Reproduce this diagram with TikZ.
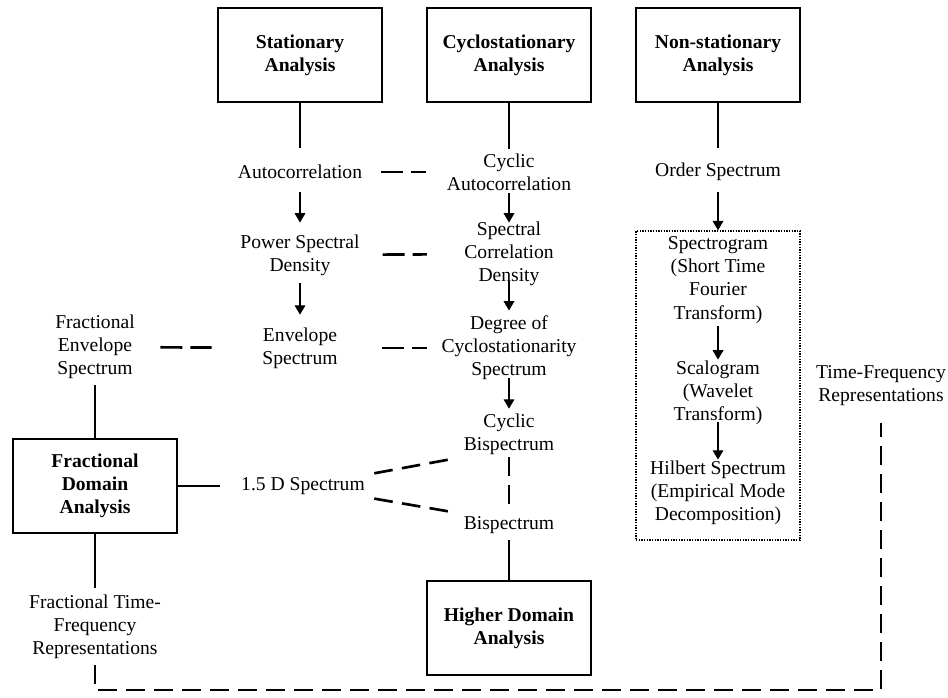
\documentclass[tikz,border=0pt]{standalone}
\usepackage{fontspec}
\setmainfont{Liberation Serif}
\usetikzlibrary{arrows.meta}
\tikzset{
  anabox/.style={draw, line width=1.4pt, minimum width=123pt, minimum height=71pt, align=center, inner sep=2pt, font=\fontsize{14.7}{17.3}\selectfont\bfseries},
  labltxt/.style={align=center, inner sep=2pt, font=\fontsize{14.7}{17.3}\selectfont},
  solidlink/.style={line width=2pt},
  dashlink/.style={line width=2pt, dash pattern=on 16.5pt off 6pt},
  longdash/.style={line width=2pt, dash pattern=on 14pt off 7pt},
  arrowlink/.style={line width=0.9pt, -{Triangle[width=8pt,length=7pt]}},
  tfgroup/.style={draw, line width=1pt, dash pattern=on 1pt off 1pt, minimum width=123pt, minimum height=231.75pt, inner sep=0pt},
}
\newcommand{\anacell}[4]{\node[anabox] (#1) at (#2,#3) {#4};}
\newcommand{\labltext}[4]{\node[labltxt] (#1) at (#2,#3) {#4};}

\begin{document}
\begin{tikzpicture}[x=0.75pt,y=-0.75pt]
        \useasboundingbox (0,0) rectangle (948,698);

        % top row
        \anacell{statbox}{300}{55}{Stationary\\Analysis}
        \anacell{cycbox}{509}{55}{Cyclostationary\\Analysis}
        \anacell{nonbox}{718}{55}{Non-stationary\\Analysis}

        % stationary column
        \labltext{autocorr}{300}{172}{Autocorrelation}
        \labltext{psd}{300}{255}{Power Spectral\\Density}
        \labltext{env}{300}{348}{Envelope\\Spectrum}
        \labltext{onefive}{303}{486}{1.5 D Spectrum}

        % cyclostationary column
        \labltext{cycauto}{509}{172}{Cyclic\\Autocorrelation}
        \labltext{scd}{509}{254}{Spectral\\Correlation\\Density}
        \labltext{dcs}{509}{348}{Degree of\\Cyclostationarity\\Spectrum}
        \labltext{cycbis}{509}{434}{Cyclic\\Bispectrum}
        \labltext{bis}{509}{525}{Bispectrum}
        \anacell{higherbox}{509}{628}{Higher Domain\\Analysis}

        % non-stationary column
        \labltext{order}{718}{172}{Order Spectrum}
        \node[tfgroup] (tfgroup) at (718,385.5) {};
        \labltext{spectro}{718}{280}{Spectrogram\\(Short Time\\Fourier\\Transform)}
        \labltext{scalo}{718}{393}{Scalogram\\(Wavelet\\Transform)}
        \labltext{hilbert}{718}{493}{Hilbert Spectrum\\(Empirical Mode\\Decomposition)}
        \labltext{tfr}{881}{386}{Time-Frequency\\Representations}

        % fractional column
        \labltext{fenv}{95}{347}{Fractional\\Envelope\\Spectrum}
        \anacell{fracbox}{95}{486}{Fractional\\Domain\\Analysis}
        \labltext{ftfr}{95}{627}{Fractional Time-\\Frequency\\Representations}

        % boxes to first entries
        \draw[solidlink, shorten >=11pt] (statbox) -- (autocorr);
        \draw[solidlink, shorten >=1.5pt] (cycbox) -- (cycauto);
        \draw[solidlink, shorten >=9.4pt] (nonbox) -- (order);
        \draw[solidlink, shorten <=2.6pt] (fenv) -- (fracbox);
        \draw[solidlink, shorten >=3.4pt] (fracbox) -- (ftfr);
        \draw[solidlink, shorten >=13.5pt] (fracbox) -- (onefive);
        \draw[solidlink, shorten <=2.6pt] (bis) -- (higherbox);

        % arrows
        \draw[arrowlink, shorten <=8pt, shorten >=6.8pt] (autocorr) -- (psd);
        \draw[arrowlink, shorten <=3.8pt, shorten >=7.5pt] (psd) -- (env);
        \draw[arrowlink, shorten >=-2.6pt] (cycauto) -- (scd);
        \draw[arrowlink, shorten <=-5.6pt, shorten >=1.9pt] (scd) -- (dcs);
        \draw[arrowlink, shorten <=-4.1pt, shorten >=1.5pt] (dcs) -- (cycbis);
        \draw[arrowlink, shorten <=6.4pt] (order) -- (tfgroup.north);
        \draw[arrowlink, shorten >=-1.1pt] (spectro) -- (scalo);
        \draw[arrowlink, shorten <=-4.1pt, shorten >=-1.1pt] (scalo) -- (hilbert);

        % dashed links
        \draw[dashlink, shorten <=12.2pt, shorten >=13.7pt] (autocorr) -- (cycauto);
        \draw[dashlink, shorten <=15pt, shorten >=26pt] (psd) -- (scd);
        \draw[dashlink, shorten <=31.4pt, shorten >=8.9pt] (env) -- (dcs);
        \draw[dashlink, shorten <=17pt, shorten >=35.9pt] (fenv) -- (env);
        \draw[longdash, shorten <=5pt, shorten >=6pt] (onefive.north east) -- (cycbis.south west);
        \draw[longdash, shorten <=5pt, shorten >=6pt] (onefive.south east) -- (bis.north west);
        \draw[longdash, shorten >=4.9pt] (cycbis) -- (bis);

        % time-frequency link
        \coordinate (floor) at (500,690);
        \draw[longdash, shorten <=2.6pt, shorten >=10.5pt] (ftfr.south) |- (floor) -| (tfr.south);

\end{tikzpicture}
\end{document}
